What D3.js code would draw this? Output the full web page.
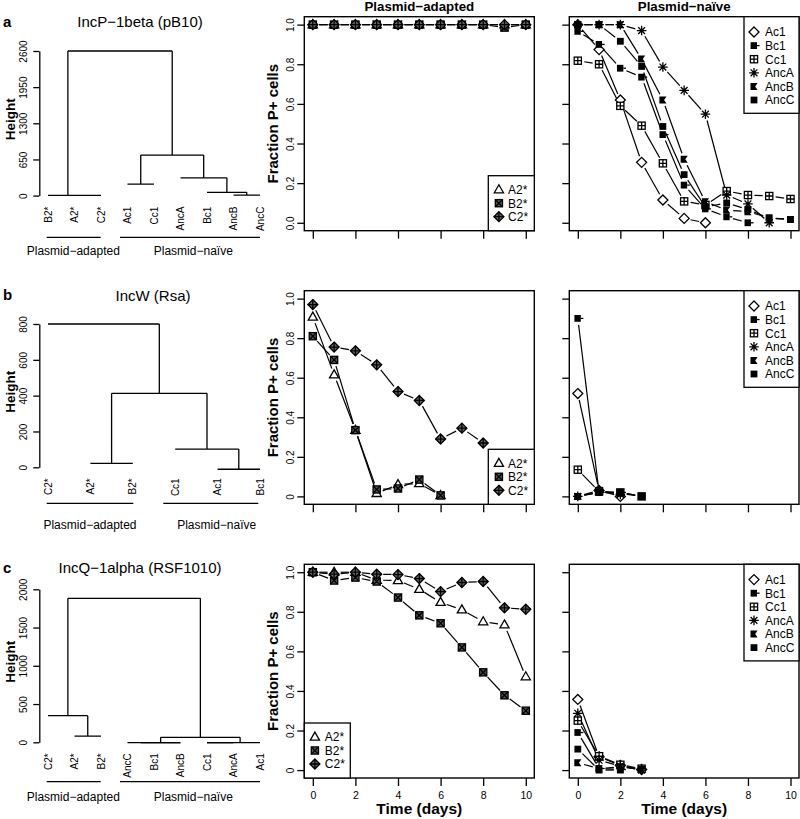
<!DOCTYPE html>
<html><head><meta charset="utf-8">
<script src="https://cdn.jsdelivr.net/npm/d3@7"></script>
<style>
body{margin:0;background:#fff}
svg{display:block}
text{font-family:"Liberation Sans",Arial,Helvetica,sans-serif;fill:#000}
</style>
</head><body>
<svg id="chart" width="800" height="819"></svg>
<script>
// ---------------- DATA ----------------
const days = [0,1,2,3,4,5,6,7,8,9,10];
const xTicks = [0,2,4,6,8,10];
const yTicks = [0,0.2,0.4,0.6,0.8,1.0];
const yTickLabelsA = ["0.0","0.2","0.4","0.6","0.8","1.0"];
const yTickLabelsBC = ["0","0.2","0.4","0.6","0.8","1.0"];
const xTickLabels = ["0","2","4","6","8","10"];

const adaptedNames = ["A2*","B2*","C2*"];
const naiveNames = ["Ac1","Bc1","Cc1","AncA","AncB","AncC"];
const adaptedSymbols = ["tri","sqx","dplus"];
const naiveSymbols = ["diamond","sqtail","sqplus","ast","notch","sq"];

// Row a: IncP-1beta (pB10)
const pB10_A2 = [1,1,1,1,1,1,1,1,1,1,1];
const pB10_B2 = [1,1,1,1,1,1,1,1,1,0.985,1];
const pB10_C2 = [1,1,1,1,1,1,1,1,1,1,1];
const pB10_Ac1 = [1,0.874,0.62,0.305,0.115,0.022,0.0];
const pB10_Bc1 = [0.966,0.90,0.78,0.735,0.445,0.19,0.07,0.03,0.0];
const pB10_Cc1 = [0.818,0.80,0.59,0.49,0.30,0.108,0.09,0.16,0.14,0.135,0.12];
const pB10_AncA = [1,1,1,0.97,0.786,0.668,0.548,0.14,0.095,0.0];
const pB10_AncB = [1,1,1,0.826,0.62,0.32,0.106,0.064,0.056,0.025,0.017];
const pB10_AncC = [1,1,0.916,0.789,0.486,0.243,0.08,0.10,0.067,0.022,0.017];

// Row b: IncW (Rsa)
const Rsa_A2 = [0.907,0.615,0.335,0.015,0.06,0.065,0.005];
const Rsa_B2 = [0.81,0.69,0.335,0.035,0.04,0.085,0.005];
const Rsa_C2 = [0.97,0.755,0.736,0.665,0.53,0.485,0.29,0.345,0.27];
const Rsa_Ac1 = [0.52,0.03,0.0];
const Rsa_Bc1 = [0.90,0.02,0.02];
const Rsa_Cc1 = [0.135,0.025,0.02,0.0];
const Rsa_AncA = [0.0,0.03,0.01];
const Rsa_AncB = [0.0,0.02,0.02,0.0];
const Rsa_AncC = [0.0,0.02,0.015,0.0];

// Row c: IncQ-1alpha (RSF1010)
const RSF_A2 = [1,1,1,0.96,0.958,0.914,0.848,0.81,0.75,0.734,0.472];
const RSF_B2 = [1,0.958,0.973,0.953,0.872,0.782,0.742,0.62,0.494,0.378,0.30];
const RSF_C2 = [1,0.99,1,0.99,0.988,0.968,0.902,0.948,0.953,0.82,0.813];
const RSF_Ac1 = [0.357,0.067,0.024,0.003];
const RSF_Bc1 = [0.19,0.008,0.003];
const RSF_Cc1 = [0.25,0.07,0.027,0.007];
const RSF_AncA = [0.287,0.05,0.02,0.0];
const RSF_AncB = [0.037,0.007,0.017,0.003];
const RSF_AncC = [0.106,0.0,0.0];

// Dendrograms: merges [left, right, height]; strings = leaves, numbers = earlier merge index
const dendA_leaves = ["B2*","A2*","C2*","Ac1","Cc1","AncA","Bc1","AncB","AncC"];
const dendA_merges = [["A2*","C2*",3],["B2*",0,4],["AncB","AncC",9],["Bc1",2,58],["AncA",3,320],["Ac1","Cc1",207],[5,4,729],[1,6,2600]];
const dendA_ticks = [0,650,1300,1950,2600];

const dendB_leaves = ["C2*","A2*","B2*","Cc1","Ac1","Bc1"];
const dendB_merges = [["A2*","B2*",22],["Ac1","Bc1",-11],["Cc1",1,102],[0,2,413],["C2*",3,800]];
const dendB_ticks = [0,200,400,600,800];

const dendC_leaves = ["C2*","A2*","B2*","AncC","Bc1","AncB","Cc1","AncA","Ac1"];
const dendC_merges = [["A2*","B2*",82],["C2*",0,348],["AncC","Bc1",-3],[2,"AncB",-6],["Cc1","AncA",-6],[4,"Ac1",-4],[3,5,65],[1,6,1882]];
const dendC_ticks = [0,500,1000,1500,2000];

const groupLabels = ["Plasmid\u2212adapted","Plasmid\u2212na\u00efve"];
const rowTitles = ["IncP\u22121beta (pB10)","IncW (Rsa)","IncQ\u22121alpha (RSF1010)"];
const rowLetters = ["a","b","c"];

// ---------------- LAYOUT ----------------
const svg = d3.select("#chart");
const LW = 1.3;
const layout = {
  mid:{x0:304.3,x1:534.3},
  right:{x0:569.3,x1:799},
  rows:[
    {top:16.7,bottom:230.7, dTop:51, dBottom:195.6, titleX:140, titleY:27, letterY:27, grpY:237.3, grpTextY:255,
     grp:[[46.7,100.7,73.3],[120,260,193.3]]},
    {top:290.7,bottom:504.3, dTop:324, dBottom:467.3, titleX:153, titleY:301, letterY:300, grpY:503.3, grpTextY:529,
     grp:[[46.7,133.3,90],[163.3,258.3,216.7]]},
    {top:564.3,bottom:778, dTop:589.3, dBottom:742.3, titleX:140, titleY:573, letterY:573, grpY:781.7, grpTextY:801,
     grp:[[46.7,100.7,73.3],[120,260,193.3]]}
  ]
};

function sym(g, type, x, y){
  const s = g.append("g").attr("transform",`translate(${x},${y})`)
    .attr("stroke","#000").attr("stroke-width",LW).attr("fill","#fff");
  if(type==="tri") s.append("path").attr("d","M0,-4.9L4.6,3.1L-4.6,3.1Z");
  else if(type==="sqx"){ s.append("rect").attr("x",-3.6).attr("y",-3.6).attr("width",7.2).attr("height",7.2).attr("fill","#555");
    s.append("path").attr("d","M-3.6,-3.6L3.6,3.6M-3.6,3.6L3.6,-3.6"); }
  else if(type==="dplus"){ s.append("path").attr("d","M0,-5L5,0L0,5L-5,0Z").attr("fill","#666");
    s.append("path").attr("d","M0,-5V5M-5,0H5"); }
  else if(type==="diamond") s.append("path").attr("d","M0,-5L5,0L0,5L-5,0Z");
  else if(type==="sqplus"){ s.append("rect").attr("x",-3.6).attr("y",-3.6).attr("width",7.2).attr("height",7.2);
    s.append("path").attr("d","M0,-3.6V3.6M-3.6,0H3.6"); }
  else if(type==="ast") s.append("path").attr("d","M-4.8,0H4.8M0,-4.8V4.8M-3.4,-3.4L3.4,3.4M-3.4,3.4L3.4,-3.4");
  else if(type==="sqtail"){ s.append("rect").attr("x",-3.4).attr("y",-3.4).attr("width",6.4).attr("height",6.8).attr("fill","#000").attr("stroke","none");
    s.append("path").attr("d","M3,0H5.6"); }
  else if(type==="notch") s.append("path").attr("d","M-3.5,-3.5H3.6L1.2,0L3.6,3.5H-3.5Z").attr("fill","#000").attr("stroke","none");
  else if(type==="sq") s.append("rect").attr("x",-3.4).attr("y",-3.4).attr("width",6.8).attr("height",6.8).attr("fill","#000").attr("stroke","none");
}

function typeB(g, pts, gap){
  for(let i=0;i<pts.length-1;i++){
    const [x1,y1]=pts[i],[x2,y2]=pts[i+1];
    const dx=x2-x1, dy=y2-y1, d=Math.hypot(dx,dy);
    if(d<=2*gap) continue;
    const ux=dx/d, uy=dy/d;
    g.append("line").attr("x1",x1+ux*gap).attr("y1",y1+uy*gap).attr("x2",x2-ux*gap).attr("y2",y2-uy*gap)
      .attr("stroke","#000").attr("stroke-width",1.2);
  }
}

function linePanel(rowIdx, col, series, names, symbols, opts){
  const r = layout.rows[rowIdx], c = layout[col];
  const x = d3.scaleLinear().domain([-0.4,10.4]).range([c.x0,c.x1]);
  const y = d3.scaleLinear().domain([-0.04,1.04]).range([r.bottom,r.top]);
  const g = svg.append("g");
  const ya = g.append("g").attr("transform",`translate(${c.x0},0)`)
    .call(d3.axisLeft(y).tickValues(yTicks).tickSize(7).tickSizeOuter(0)
      .tickFormat((d,i)=>opts.yLabels ? opts.yLabels[i] : ""));
  ya.select(".domain").remove();
  ya.selectAll(".tick line").attr("stroke","#000").attr("stroke-width",LW);
  ya.selectAll(".tick text").attr("x",0).attr("dy","0.35em").attr("text-anchor","middle")
    .attr("transform","translate(-13.6,0) rotate(-90)").style("font-size","10px").attr("fill","#000");
  const xa = g.append("g").attr("transform",`translate(0,${r.bottom})`)
    .call(d3.axisBottom(x).tickValues(xTicks).tickSize(8).tickSizeOuter(0).tickPadding(6)
      .tickFormat((d,i)=>opts.xLabels ? xTickLabels[i] : ""));
  xa.select(".domain").remove();
  xa.selectAll(".tick line").attr("stroke","#000").attr("stroke-width",LW);
  xa.selectAll(".tick text").style("font-size","10.5px").attr("fill","#000");
  series.forEach((vals)=>{
    typeB(g, vals.map((v,i)=>[x(days[i]),y(v)]), 6.5);
  });
  series.forEach((vals,si)=>{
    vals.forEach((v,i)=>sym(g, symbols[si], x(days[i]), y(v)));
  });
  g.append("rect").attr("x",c.x0).attr("y",r.top).attr("width",c.x1-c.x0).attr("height",r.bottom-r.top)
    .attr("fill","none").attr("stroke","#000").attr("stroke-width",1.4);
  const L = opts.legend;
  const lg = g.append("g");
  lg.append("rect").attr("x",L.x).attr("y",L.y).attr("width",L.w).attr("height",L.h)
    .attr("fill","#fff").attr("stroke","#000").attr("stroke-width",1.3);
  names.forEach((n,i)=>{
    const yy = L.y + L.first + L.step*i;
    sym(lg, symbols[i], L.x+L.sx, yy);
    lg.append("text").attr("x",L.x+L.tx).attr("y",yy).attr("dy","0.36em").style("font-size","12px").text(n);
  });
  if(opts.yTitle){
    svg.append("text").attr("transform",`translate(278,${(r.top+r.bottom)/2}) rotate(-90)`)
      .attr("text-anchor","middle").style("font-size","15px").style("font-weight","bold").text("Fraction P+ cells");
  }
  if(opts.xTitle){
    svg.append("text").attr("x",(c.x0+c.x1)/2).attr("y",814).attr("text-anchor","middle")
      .style("font-size","15.5px").style("font-weight","bold").text("Time (days)");
  }
  if(opts.colTitle){
    svg.append("text").attr("x",(c.x0+c.x1)/2).attr("y",10.5).attr("text-anchor","middle")
      .style("font-size","13.3px").style("font-weight","bold").text(opts.colTitle);
  }
}

function dendro(rowIdx, leaves, merges, ticks){
  const r = layout.rows[rowIdx];
  const g = svg.append("g");
  const y = d3.scaleLinear().domain([ticks[0],ticks[ticks.length-1]]).range([r.dBottom,r.dTop]);
  const xs = d3.scalePoint().domain(leaves).range([48,260]);
  const pos = [];
  const cx = c => typeof c === "string" ? xs(c) : pos[c];
  const path = d3.path();
  merges.forEach((m,i)=>{
    const [a,b,h] = m;
    const x1=cx(a), x2=cx(b);
    pos[i]=(x1+x2)/2;
    path.moveTo(x1,y(h)); path.lineTo(x2,y(h));
    [a,b].forEach(ch=>{ if(typeof ch==="number"){ path.moveTo(cx(ch),y(h)); path.lineTo(cx(ch),y(merges[ch][2])); }});
  });
  g.append("path").attr("d",path.toString()).attr("fill","none").attr("stroke","#000").attr("stroke-width",LW);
  const ax = g.append("g").attr("transform","translate(39.3,0)")
    .call(d3.axisLeft(y).tickValues(ticks).tickSize(6).tickSizeOuter(0).tickFormat(d3.format("d")));
  ax.select(".domain").attr("stroke","#000").attr("stroke-width",LW);
  ax.selectAll(".tick line").attr("stroke","#000").attr("stroke-width",LW);
  ax.selectAll(".tick text").attr("x",0).attr("dy","0.35em").attr("text-anchor","middle")
    .attr("transform","translate(-16.3,0) rotate(-90)").style("font-size","10px").attr("fill","#000");
  leaves.forEach(l=>{
    g.append("text").attr("transform",`translate(${xs(l)},${y(0)+11}) rotate(-90)`)
      .attr("text-anchor","end").attr("dy","0.35em").style("font-size","10px").text(l);
  });
  svg.append("text").attr("transform",`translate(15,${(r.dTop+r.dBottom)/2-4}) rotate(-90)`)
    .attr("text-anchor","middle").style("font-size","13.5px").style("font-weight","bold").text("Height");
  svg.append("text").attr("x",r.titleX).attr("y",r.titleY).attr("text-anchor","middle").style("font-size","15px").text(rowTitles[rowIdx]);
  svg.append("text").attr("x",3).attr("y",r.letterY).style("font-size","15px").style("font-weight","bold").text(rowLetters[rowIdx]);
  r.grp.forEach((gp,i)=>{
    g.append("line").attr("x1",gp[0]).attr("x2",gp[1]).attr("y1",r.grpY).attr("y2",r.grpY).attr("stroke","#000").attr("stroke-width",LW);
    g.append("text").attr("x",gp[2]).attr("y",r.grpTextY).attr("text-anchor","middle").style("font-size","12px").text(groupLabels[i]);
  });
}

function midLegend(rowIdx, pos){
  const r = layout.rows[rowIdx], c = layout.mid;
  const w = 46, h = 55;
  return pos==="br" ? {x:c.x1-w, y:r.bottom-h, w, h, sx:10.6, tx:19.8, first:14, step:13.5}
                    : {x:c.x0, y:r.bottom-h, w, h, sx:10.6, tx:20.5, first:14, step:13.5};
}
function rightLegend(rowIdx){
  const r = layout.rows[rowIdx], c = layout.right;
  return {x:744, y:r.top, w:c.x1-744, h:96.6, sx:10, tx:21, first:15.3, step:13.6};
}

dendro(0, dendA_leaves, dendA_merges, dendA_ticks);
linePanel(0,"mid",[pB10_A2,pB10_B2,pB10_C2],adaptedNames,adaptedSymbols,
  {yLabels:yTickLabelsA, yTitle:true, legend:midLegend(0,"br"), colTitle:"Plasmid\u2212adapted"});
linePanel(0,"right",[pB10_Ac1,pB10_Bc1,pB10_Cc1,pB10_AncA,pB10_AncB,pB10_AncC],naiveNames,naiveSymbols,
  {legend:rightLegend(0), colTitle:"Plasmid\u2212na\u00efve"});
dendro(1, dendB_leaves, dendB_merges, dendB_ticks);
linePanel(1,"mid",[Rsa_A2,Rsa_B2,Rsa_C2],adaptedNames,adaptedSymbols,
  {yLabels:yTickLabelsBC, yTitle:true, legend:midLegend(1,"br")});
linePanel(1,"right",[Rsa_Ac1,Rsa_Bc1,Rsa_Cc1,Rsa_AncA,Rsa_AncB,Rsa_AncC],naiveNames,naiveSymbols,
  {legend:rightLegend(1)});
dendro(2, dendC_leaves, dendC_merges, dendC_ticks);
linePanel(2,"mid",[RSF_A2,RSF_B2,RSF_C2],adaptedNames,adaptedSymbols,
  {yLabels:yTickLabelsBC, yTitle:true, xLabels:true, xTitle:true, legend:midLegend(2,"bl")});
linePanel(2,"right",[RSF_Ac1,RSF_Bc1,RSF_Cc1,RSF_AncA,RSF_AncB,RSF_AncC],naiveNames,naiveSymbols,
  {xLabels:true, xTitle:true, legend:rightLegend(2)});
</script>
</body></html>
